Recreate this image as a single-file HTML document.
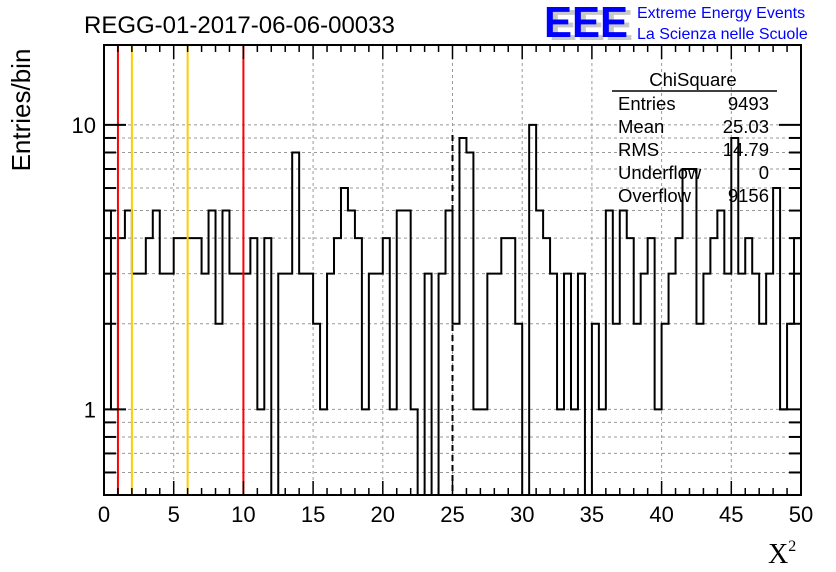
<!DOCTYPE html>
<html><head><meta charset="utf-8"><style>
body{margin:0;background:#fff}
svg{display:block;font-family:"Liberation Sans",sans-serif}
</style></head><body>
<svg id="c" width="836" height="572" viewBox="0 0 836 572">
<rect width="836" height="572" fill="#fff"/>
<text x="84" y="33" font-size="24">REGG-01-2017-06-06-00033</text>
<g>
<text x="549" y="40" font-size="44" font-weight="bold" fill="#c8c8c8" textLength="84" lengthAdjust="spacingAndGlyphs">EEE</text>
<text x="544" y="37" font-size="44" font-weight="bold" fill="#0000ff" textLength="84" lengthAdjust="spacingAndGlyphs">EEE</text>
<text x="637" y="18" font-size="16" fill="#0000ff">Extreme Energy Events</text>
<text x="637" y="39" font-size="16" fill="#0000ff">La Scienza nelle Scuole</text>
</g>
<g id="grid"></g>
<g id="marks"></g>
<g id="axes"></g>
<g font-size="18.5">
<text x="693" y="86" text-anchor="middle">ChiSquare</text>
<line x1="612" y1="91" x2="777" y2="91" stroke="#000" stroke-width="1.5"/>
<text x="618" y="110">Entries</text><text x="769" y="110" text-anchor="end">9493</text>
<text x="618" y="133">Mean</text><text x="769" y="133" text-anchor="end">25.03</text>
<text x="618" y="156">RMS</text><text x="769" y="156" text-anchor="end">14.79</text>
<text x="618" y="179">Underflow</text><text x="769" y="179" text-anchor="end">0</text>
<text x="618" y="202">Overflow</text><text x="769" y="202" text-anchor="end">9156</text>
</g>
<text x="30" y="110" font-size="26" transform="rotate(-90 30 110)" text-anchor="middle">Entries/bin</text>
<text x="768" y="563" font-size="28" font-family="Liberation Serif,serif">X<tspan font-size="16" dy="-12">2</tspan></text>
</svg>
<script>
const counts=[5,1,4,5,3,3,4,5,3,3,4,4,4,4,3,5,2,5,3,3,3,4,1,4,0,3,3,8,3,3,2,1,3,4,6,5,4,1,3,3,4,1,5,5,1,0,3,0,3,5,2,9,8,1,1,3,3,4,4,2,0,10,5,4,3,1,3,1,3,0,2,1,5,2,5,4,2,3,4,1,2,3,4,7,7,2,3,4,5,3,9,3,4,3,2,3,6,1,2,4];
const xTicks=[0,5,10,15,20,25,30,35,40,45,50];
const yTickLabels=[1,10];
const redLines=[1,10];
const goldLines=[2,6];
const meanLine=[25];
const X0=104,X1=801,Y0=495,Y1=45,XMIN=0,XMAX=50,YMIN=0.5,YMAX=19.1;
const sx=v=>X0+(v-XMIN)/(XMAX-XMIN)*(X1-X0);
const sy=v=>v<=YMIN?Y0:Y0-(Math.log10(v)-Math.log10(YMIN))/(Math.log10(YMAX)-Math.log10(YMIN))*(Y0-Y1);
const NS='http://www.w3.org/2000/svg';
function mk(p,t,a){const e=document.createElementNS(NS,t);for(const k in a)e.setAttribute(k,a[k]);p.appendChild(e);return e;}
const grid=document.getElementById('grid'),marks=document.getElementById('marks'),axes=document.getElementById('axes');
xTicks.forEach(v=>{if(v>XMIN&&v<XMAX){const l=mk(grid,'line',{x1:sx(v),x2:sx(v),y1:Y1,y2:Y0,stroke:'#999','stroke-dasharray':'3,3'});

}});
const yMinor=[0.6,0.7,0.8,0.9,1,2,3,4,5,6,7,8,9,10];
yMinor.forEach(v=>{const l=mk(grid,'line',{x1:X0,x2:X1,y1:sy(v),y2:sy(v),stroke:'#999','stroke-dasharray':'3,3'});

});
const bw=(XMAX-XMIN)/counts.length;
let d='M'+sx(0)+','+Y0;
counts.forEach((c,i)=>{const y=sy(c);d+=' L'+sx(i*bw)+','+y+' L'+sx((i+1)*bw)+','+y;});
d+=' L'+sx(XMAX)+','+Y0;
const h=mk(marks,'path',{d:d,fill:'none',stroke:'#000','stroke-width':2});


redLines.forEach(v=>{const l=mk(marks,'line',{x1:sx(v),x2:sx(v),y1:Y1,y2:Y0,stroke:'#ff0000','stroke-width':2});

});
goldLines.forEach(v=>{const l=mk(marks,'line',{x1:sx(v),x2:sx(v),y1:Y1,y2:Y0,stroke:'#ffcc00','stroke-width':2});

});
meanLine.forEach(v=>{const l=mk(marks,'line',{x1:sx(v),x2:sx(v),y1:Y1+90,y2:Y0,stroke:'#000','stroke-width':2,'stroke-dasharray':'6,4'});

});
const fr=mk(axes,'rect',{x:X0,y:Y1,width:X1-X0,height:Y0-Y1,fill:'none',stroke:'#000','stroke-width':2});


for(let v=XMIN;v<=XMAX;v++){const L=(v%5===0)?14:7;
mk(axes,'line',{x1:sx(v),x2:sx(v),y1:Y0,y2:Y0-L,stroke:'#000','stroke-width':1.5});
mk(axes,'line',{x1:sx(v),x2:sx(v),y1:Y1,y2:Y1+L,stroke:'#000','stroke-width':1.5});}
xTicks.forEach(v=>{const t=mk(axes,'text',{x:sx(v),y:Y0+27,'font-size':22,'text-anchor':'middle'});t.textContent=v;

});
yMinor.concat([0.5]).forEach(v=>{const L=(v===1||v===10)?22:12;
mk(axes,'line',{x1:X0,x2:X0+L,y1:sy(v),y2:sy(v),stroke:'#000','stroke-width':2});
mk(axes,'line',{x1:X1,x2:X1-L,y1:sy(v),y2:sy(v),stroke:'#000','stroke-width':2});});
yTickLabels.forEach(v=>{const t=mk(axes,'text',{x:X0-8,y:sy(v)+8,'font-size':22,'text-anchor':'end'});t.textContent=v;

});
</script>
</body></html>
